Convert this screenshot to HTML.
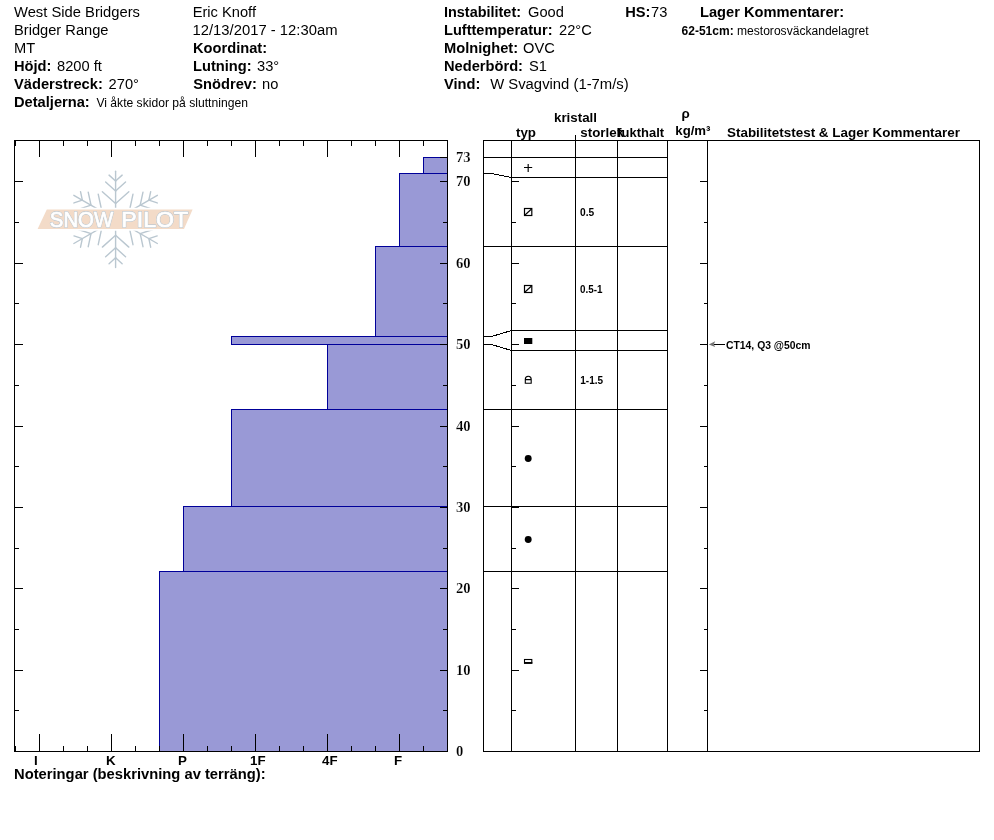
<!DOCTYPE html>
<html lang="sv"><head><meta charset="utf-8"><title>SnowPilot profil</title>
<style>
html,body{margin:0;padding:0;background:#fff;}
body{width:994px;height:840px;overflow:hidden;}
svg{display:block;position:absolute;left:0;top:0;will-change:transform;}
text{font-family:"Liberation Sans",Arial,Helvetica,sans-serif;fill:#000;white-space:pre;}
.b{font-weight:bold;}
.h{font-size:14.667px;}
.s{font-size:12px;}
.c{font-size:13.333px;font-weight:bold;}
.t{font-size:10.667px;font-weight:bold;}
.n{font-family:"Liberation Serif","Times New Roman",serif;font-weight:bold;font-size:14.667px;stroke:#fff;stroke-width:0.2px;}
.ln{shape-rendering:crispEdges;fill:#000;}
</style></head><body>
<svg width="994" height="840" viewBox="0 0 994 840">
<rect x="0" y="0" width="994" height="840" fill="#fff"/>
<text x="14" y="17" class="h" textLength="126" lengthAdjust="spacingAndGlyphs">West Side Bridgers</text>
<text x="14" y="35" class="h">Bridger Range</text>
<text x="14" y="53" class="h">MT</text>
<text x="14" y="71" class="h b">Höjd:</text>
<text x="57" y="71" class="h">8200 ft</text>
<text x="14" y="89" class="h b">Väderstreck:</text>
<text x="108.6" y="89" class="h">270°</text>
<text x="14" y="107" class="h b">Detaljerna:</text>
<text x="96.4" y="107" class="s" textLength="151.5" lengthAdjust="spacingAndGlyphs">Vi åkte skidor på sluttningen</text>
<text x="192.7" y="17" class="h">Eric Knoff</text>
<text x="192.5" y="35" class="h" textLength="145" lengthAdjust="spacingAndGlyphs">12/13/2017 - 12:30am</text>
<text x="193" y="53" class="h b">Koordinat:</text>
<text x="193" y="71" class="h b">Lutning:</text>
<text x="257" y="71" class="h">33°</text>
<text x="193.3" y="89" class="h b">Snödrev:</text>
<text x="262" y="89" class="h">no</text>
<text x="444" y="17" class="h b" textLength="77" lengthAdjust="spacingAndGlyphs">Instabilitet:</text>
<text x="528" y="17" class="h">Good</text>
<text x="444" y="35" class="h b" textLength="108.5" lengthAdjust="spacingAndGlyphs">Lufttemperatur:</text>
<text x="559" y="35" class="h">22°C</text>
<text x="444" y="53" class="h b">Molnighet:</text>
<text x="523" y="53" class="h">OVC</text>
<text x="444" y="71" class="h b">Nederbörd:</text>
<text x="529" y="71" class="h">S1</text>
<text x="444" y="89" class="h b">Vind:</text>
<text x="490.2" y="89" class="h" textLength="138.5" lengthAdjust="spacingAndGlyphs">W Svagvind (1-7m/s)</text>
<text x="625.2" y="17" class="h b">HS:</text>
<text x="651" y="17" class="h">73</text>
<text x="700" y="17" class="h b">Lager Kommentarer:</text>
<text x="681.6" y="35" class="s b">62-51cm:</text>
<text x="737" y="35" class="s" textLength="131.5" lengthAdjust="spacingAndGlyphs">mestorosväckandelagret</text>
<g stroke="#bac7d0" stroke-width="1.4" stroke-linecap="round" fill="none">
<line x1="115.60" y1="216.40" x2="115.60" y2="171.20"/>
<line x1="115.60" y1="181.00" x2="122.14" y2="175.11"/>
<line x1="115.60" y1="181.00" x2="109.06" y2="175.11"/>
<line x1="115.60" y1="191.00" x2="125.56" y2="182.03"/>
<line x1="115.60" y1="191.00" x2="105.64" y2="182.03"/>
<line x1="115.60" y1="203.60" x2="128.83" y2="191.69"/>
<line x1="115.60" y1="203.60" x2="102.37" y2="191.69"/>
<line x1="118.20" y1="217.90" x2="157.34" y2="195.30"/>
<line x1="148.86" y1="200.20" x2="157.22" y2="202.92"/>
<line x1="148.86" y1="200.20" x2="150.68" y2="191.59"/>
<line x1="140.20" y1="205.20" x2="152.94" y2="209.34"/>
<line x1="140.20" y1="205.20" x2="142.98" y2="192.09"/>
<line x1="129.28" y1="211.50" x2="146.21" y2="217.00"/>
<line x1="129.28" y1="211.50" x2="132.98" y2="194.09"/>
<line x1="113.00" y1="217.90" x2="73.86" y2="195.30"/>
<line x1="82.34" y1="200.20" x2="80.52" y2="191.59"/>
<line x1="82.34" y1="200.20" x2="73.98" y2="202.92"/>
<line x1="91.00" y1="205.20" x2="88.22" y2="192.09"/>
<line x1="91.00" y1="205.20" x2="78.26" y2="209.34"/>
<line x1="101.92" y1="211.50" x2="98.22" y2="194.09"/>
<line x1="101.92" y1="211.50" x2="84.99" y2="217.00"/>
<line x1="113.00" y1="220.90" x2="73.86" y2="243.50"/>
<line x1="82.34" y1="238.60" x2="73.98" y2="235.88"/>
<line x1="82.34" y1="238.60" x2="80.52" y2="247.21"/>
<line x1="91.00" y1="233.60" x2="78.26" y2="229.46"/>
<line x1="91.00" y1="233.60" x2="88.22" y2="246.71"/>
<line x1="101.92" y1="227.30" x2="84.99" y2="221.80"/>
<line x1="101.92" y1="227.30" x2="98.22" y2="244.71"/>
<line x1="115.60" y1="222.40" x2="115.60" y2="267.60"/>
<line x1="115.60" y1="257.80" x2="109.06" y2="263.69"/>
<line x1="115.60" y1="257.80" x2="122.14" y2="263.69"/>
<line x1="115.60" y1="247.80" x2="105.64" y2="256.77"/>
<line x1="115.60" y1="247.80" x2="125.56" y2="256.77"/>
<line x1="115.60" y1="235.20" x2="102.37" y2="247.11"/>
<line x1="115.60" y1="235.20" x2="128.83" y2="247.11"/>
<line x1="118.20" y1="220.90" x2="157.34" y2="243.50"/>
<line x1="148.86" y1="238.60" x2="150.68" y2="247.21"/>
<line x1="148.86" y1="238.60" x2="157.22" y2="235.88"/>
<line x1="140.20" y1="233.60" x2="142.98" y2="246.71"/>
<line x1="140.20" y1="233.60" x2="152.94" y2="229.46"/>
<line x1="129.28" y1="227.30" x2="132.98" y2="244.71"/>
<line x1="129.28" y1="227.30" x2="146.21" y2="221.80"/>
</g>
<polygon points="46.8,209.6 192.6,209.6 184,228.9 37.6,228.9" fill="#f3dbc8" stroke="#fff" stroke-width="3.6" paint-order="stroke"/>
<g style="font-size:21.5px">
<text x="49.8" y="227" style="fill:#c1cad1;stroke:#c1cad1;stroke-width:1.9px;stroke-linejoin:round" textLength="63.4" lengthAdjust="spacingAndGlyphs">SNOW</text>
<text x="49.8" y="227" style="fill:#fff;stroke:#fff;stroke-width:0.7px;stroke-linejoin:round" textLength="63.4" lengthAdjust="spacingAndGlyphs">SNOW</text>
<text x="121.3" y="227" style="fill:#c1cad1;stroke:#c1cad1;stroke-width:1.9px;stroke-linejoin:round" textLength="66.8" lengthAdjust="spacingAndGlyphs">PILOT</text>
<text x="121.3" y="227" style="fill:#fff;stroke:#fff;stroke-width:0.7px;stroke-linejoin:round" textLength="66.8" lengthAdjust="spacingAndGlyphs">PILOT</text>
</g>
<rect x="423.5" y="157.5" width="23.5" height="16" fill="#9999d6" stroke="#000099" stroke-width="1" shape-rendering="crispEdges"/>
<rect x="399.5" y="173.5" width="47.5" height="73" fill="#9999d6" stroke="#000099" stroke-width="1" shape-rendering="crispEdges"/>
<rect x="375.5" y="246.5" width="71.5" height="90" fill="#9999d6" stroke="#000099" stroke-width="1" shape-rendering="crispEdges"/>
<rect x="231.5" y="336.5" width="215.5" height="8" fill="#9999d6" stroke="#000099" stroke-width="1" shape-rendering="crispEdges"/>
<rect x="327.5" y="344.5" width="119.5" height="65" fill="#9999d6" stroke="#000099" stroke-width="1" shape-rendering="crispEdges"/>
<rect x="231.5" y="409.5" width="215.5" height="97" fill="#9999d6" stroke="#000099" stroke-width="1" shape-rendering="crispEdges"/>
<rect x="183.5" y="506.5" width="263.5" height="65" fill="#9999d6" stroke="#000099" stroke-width="1" shape-rendering="crispEdges"/>
<rect x="159.5" y="571.5" width="287.5" height="180" fill="#9999d6" stroke="#000099" stroke-width="1" shape-rendering="crispEdges"/>
<rect class="ln" x="14" y="140" width="434" height="1" fill="#000"/>
<rect class="ln" x="14" y="751" width="434" height="1" fill="#000"/>
<rect class="ln" x="14" y="140" width="1" height="612" fill="#000"/>
<rect class="ln" x="447" y="140" width="1" height="612" fill="#000"/>
<rect class="ln" x="15" y="141" width="1" height="5" fill="#000"/>
<rect class="ln" x="15" y="746" width="1" height="5" fill="#000"/>
<rect class="ln" x="39" y="141" width="1" height="16" fill="#000"/>
<rect class="ln" x="39" y="734" width="1" height="17" fill="#000"/>
<rect class="ln" x="63" y="141" width="1" height="5" fill="#000"/>
<rect class="ln" x="63" y="746" width="1" height="5" fill="#000"/>
<rect class="ln" x="87" y="141" width="1" height="5" fill="#000"/>
<rect class="ln" x="87" y="746" width="1" height="5" fill="#000"/>
<rect class="ln" x="111" y="141" width="1" height="16" fill="#000"/>
<rect class="ln" x="111" y="734" width="1" height="17" fill="#000"/>
<rect class="ln" x="135" y="141" width="1" height="5" fill="#000"/>
<rect class="ln" x="135" y="746" width="1" height="5" fill="#000"/>
<rect class="ln" x="159" y="141" width="1" height="5" fill="#000"/>
<rect class="ln" x="159" y="746" width="1" height="5" fill="#000"/>
<rect class="ln" x="183" y="141" width="1" height="16" fill="#000"/>
<rect class="ln" x="183" y="734" width="1" height="17" fill="#000"/>
<rect class="ln" x="207" y="141" width="1" height="5" fill="#000"/>
<rect class="ln" x="207" y="746" width="1" height="5" fill="#000"/>
<rect class="ln" x="231" y="141" width="1" height="5" fill="#000"/>
<rect class="ln" x="231" y="746" width="1" height="5" fill="#000"/>
<rect class="ln" x="255" y="141" width="1" height="16" fill="#000"/>
<rect class="ln" x="255" y="734" width="1" height="17" fill="#000"/>
<rect class="ln" x="279" y="141" width="1" height="5" fill="#000"/>
<rect class="ln" x="279" y="746" width="1" height="5" fill="#000"/>
<rect class="ln" x="303" y="141" width="1" height="5" fill="#000"/>
<rect class="ln" x="303" y="746" width="1" height="5" fill="#000"/>
<rect class="ln" x="327" y="141" width="1" height="16" fill="#000"/>
<rect class="ln" x="327" y="734" width="1" height="17" fill="#000"/>
<rect class="ln" x="351" y="141" width="1" height="5" fill="#000"/>
<rect class="ln" x="351" y="746" width="1" height="5" fill="#000"/>
<rect class="ln" x="375" y="141" width="1" height="5" fill="#000"/>
<rect class="ln" x="375" y="746" width="1" height="5" fill="#000"/>
<rect class="ln" x="399" y="141" width="1" height="16" fill="#000"/>
<rect class="ln" x="399" y="734" width="1" height="17" fill="#000"/>
<rect class="ln" x="423" y="141" width="1" height="5" fill="#000"/>
<rect class="ln" x="423" y="746" width="1" height="5" fill="#000"/>
<rect class="ln" x="15" y="181" width="8" height="1" fill="#000"/>
<rect class="ln" x="440" y="181" width="7" height="1" fill="#000"/>
<rect class="ln" x="15" y="222" width="4" height="1" fill="#000"/>
<rect class="ln" x="443" y="222" width="4" height="1" fill="#000"/>
<rect class="ln" x="15" y="263" width="8" height="1" fill="#000"/>
<rect class="ln" x="440" y="263" width="7" height="1" fill="#000"/>
<rect class="ln" x="15" y="303" width="4" height="1" fill="#000"/>
<rect class="ln" x="443" y="303" width="4" height="1" fill="#000"/>
<rect class="ln" x="15" y="344" width="8" height="1" fill="#000"/>
<rect class="ln" x="440" y="344" width="7" height="1" fill="#000"/>
<rect class="ln" x="15" y="385" width="4" height="1" fill="#000"/>
<rect class="ln" x="443" y="385" width="4" height="1" fill="#000"/>
<rect class="ln" x="15" y="426" width="8" height="1" fill="#000"/>
<rect class="ln" x="440" y="426" width="7" height="1" fill="#000"/>
<rect class="ln" x="15" y="466" width="4" height="1" fill="#000"/>
<rect class="ln" x="443" y="466" width="4" height="1" fill="#000"/>
<rect class="ln" x="15" y="507" width="8" height="1" fill="#000"/>
<rect class="ln" x="440" y="507" width="7" height="1" fill="#000"/>
<rect class="ln" x="15" y="548" width="4" height="1" fill="#000"/>
<rect class="ln" x="443" y="548" width="4" height="1" fill="#000"/>
<rect class="ln" x="15" y="588" width="8" height="1" fill="#000"/>
<rect class="ln" x="440" y="588" width="7" height="1" fill="#000"/>
<rect class="ln" x="15" y="629" width="4" height="1" fill="#000"/>
<rect class="ln" x="443" y="629" width="4" height="1" fill="#000"/>
<rect class="ln" x="15" y="670" width="8" height="1" fill="#000"/>
<rect class="ln" x="440" y="670" width="7" height="1" fill="#000"/>
<rect class="ln" x="15" y="710" width="4" height="1" fill="#000"/>
<rect class="ln" x="443" y="710" width="4" height="1" fill="#000"/>
<rect class="ln" x="440" y="157" width="7" height="1" fill="#000"/>
<text x="34" y="765" class="c">I</text>
<text x="106" y="765" class="c">K</text>
<text x="178" y="765" class="c">P</text>
<text x="250" y="765" class="c">1F</text>
<text x="322" y="765" class="c">4F</text>
<text x="394" y="765" class="c">F</text>
<text x="456" y="162" class="n">73</text>
<text x="456" y="186" class="n">70</text>
<text x="456" y="268" class="n">60</text>
<text x="456" y="349" class="n">50</text>
<text x="456" y="431" class="n">40</text>
<text x="456" y="512" class="n">30</text>
<text x="456" y="593" class="n">20</text>
<text x="456" y="675" class="n">10</text>
<text x="456" y="756" class="n">0</text>
<text x="14" y="779" class="h b" textLength="251.6" lengthAdjust="spacingAndGlyphs">Noteringar (beskrivning av terräng):</text>
<rect class="ln" x="483" y="140" width="497" height="1" fill="#000"/>
<rect class="ln" x="483" y="751" width="497" height="1" fill="#000"/>
<rect class="ln" x="483" y="140" width="1" height="612" fill="#000"/>
<rect class="ln" x="511" y="140" width="1" height="612" fill="#000"/>
<rect class="ln" x="575" y="140" width="1" height="612" fill="#000"/>
<rect class="ln" x="617" y="140" width="1" height="612" fill="#000"/>
<rect class="ln" x="667" y="140" width="1" height="612" fill="#000"/>
<rect class="ln" x="707" y="140" width="1" height="612" fill="#000"/>
<rect class="ln" x="979" y="140" width="1" height="612" fill="#000"/>
<rect class="ln" x="575" y="135" width="1" height="5" fill="#000"/>
<rect class="ln" x="483" y="157" width="184" height="1" fill="#000"/>
<rect class="ln" x="511" y="177" width="156" height="1" fill="#000"/>
<rect class="ln" x="511" y="246" width="156" height="1" fill="#000"/>
<rect class="ln" x="511" y="330" width="156" height="1" fill="#000"/>
<rect class="ln" x="511" y="350" width="156" height="1" fill="#000"/>
<rect class="ln" x="511" y="409" width="156" height="1" fill="#000"/>
<rect class="ln" x="511" y="506" width="156" height="1" fill="#000"/>
<rect class="ln" x="511" y="571" width="156" height="1" fill="#000"/>
<polyline points="483.5,173.5 491.5,173.5 511.5,177.5" fill="none" stroke="#000" stroke-width="1" shape-rendering="crispEdges"/>
<rect class="ln" x="483" y="246" width="28" height="1" fill="#000"/>
<polyline points="483.5,336.5 491.5,336.5 511.5,330.5" fill="none" stroke="#000" stroke-width="1" shape-rendering="crispEdges"/>
<polyline points="483.5,344.5 491.5,344.5 511.5,350.5" fill="none" stroke="#000" stroke-width="1" shape-rendering="crispEdges"/>
<rect class="ln" x="483" y="409" width="28" height="1" fill="#000"/>
<rect class="ln" x="483" y="506" width="28" height="1" fill="#000"/>
<rect class="ln" x="483" y="571" width="28" height="1" fill="#000"/>
<rect class="ln" x="512" y="181" width="7" height="1" fill="#000"/>
<rect class="ln" x="700" y="181" width="7" height="1" fill="#000"/>
<rect class="ln" x="512" y="222" width="4" height="1" fill="#000"/>
<rect class="ln" x="704" y="222" width="3" height="1" fill="#000"/>
<rect class="ln" x="512" y="263" width="7" height="1" fill="#000"/>
<rect class="ln" x="700" y="263" width="7" height="1" fill="#000"/>
<rect class="ln" x="512" y="303" width="4" height="1" fill="#000"/>
<rect class="ln" x="704" y="303" width="3" height="1" fill="#000"/>
<rect class="ln" x="512" y="344" width="7" height="1" fill="#000"/>
<rect class="ln" x="700" y="344" width="7" height="1" fill="#000"/>
<rect class="ln" x="512" y="385" width="4" height="1" fill="#000"/>
<rect class="ln" x="704" y="385" width="3" height="1" fill="#000"/>
<rect class="ln" x="512" y="426" width="7" height="1" fill="#000"/>
<rect class="ln" x="700" y="426" width="7" height="1" fill="#000"/>
<rect class="ln" x="512" y="466" width="4" height="1" fill="#000"/>
<rect class="ln" x="704" y="466" width="3" height="1" fill="#000"/>
<rect class="ln" x="512" y="507" width="7" height="1" fill="#000"/>
<rect class="ln" x="700" y="507" width="7" height="1" fill="#000"/>
<rect class="ln" x="512" y="548" width="4" height="1" fill="#000"/>
<rect class="ln" x="704" y="548" width="3" height="1" fill="#000"/>
<rect class="ln" x="512" y="588" width="7" height="1" fill="#000"/>
<rect class="ln" x="700" y="588" width="7" height="1" fill="#000"/>
<rect class="ln" x="512" y="629" width="4" height="1" fill="#000"/>
<rect class="ln" x="704" y="629" width="3" height="1" fill="#000"/>
<rect class="ln" x="512" y="670" width="7" height="1" fill="#000"/>
<rect class="ln" x="700" y="670" width="7" height="1" fill="#000"/>
<rect class="ln" x="512" y="710" width="4" height="1" fill="#000"/>
<rect class="ln" x="704" y="710" width="3" height="1" fill="#000"/>
<text x="516" y="137" class="c">typ</text>
<text x="554" y="122" class="c">kristall</text>
<text x="580.3" y="137" class="c">storlek</text>
<text x="617.3" y="137" class="c" textLength="46.8" lengthAdjust="spacingAndGlyphs">fukthalt</text>
<text x="681.4" y="118" class="c">ρ</text>
<text x="675.3" y="135" class="c" textLength="35.2" lengthAdjust="spacingAndGlyphs">kg/m³</text>
<text x="727" y="137" class="c" textLength="233" lengthAdjust="spacingAndGlyphs">Stabilitetstest &amp; Lager Kommentarer</text>
<rect class="" x="524" y="167" width="8.2" height="1" fill="#000"/>
<rect class="" x="527.6" y="164" width="1.15" height="8" fill="#000"/>
<rect x="524.5" y="208.5" width="7.3" height="7" fill="none" stroke="#000" stroke-width="1.2"/>
<line x1="525" y1="215" x2="531.5" y2="209" stroke="#000" stroke-width="1.1"/>
<rect x="524.5" y="285.5" width="7.3" height="7" fill="none" stroke="#000" stroke-width="1.2"/>
<line x1="525" y1="292" x2="531.5" y2="286" stroke="#000" stroke-width="1.1"/>
<rect class="" x="524" y="338" width="8.3" height="6" fill="#000"/>
<path d="M525.3 383.3 V379.3 A2.9 3 0 0 1 531.2 379.3 V383.3 Z M525.3 379.6 H531.2" fill="none" stroke="#000" stroke-width="1.1"/>
<circle cx="528.2" cy="458.5" r="3.45" fill="#000"/>
<circle cx="528.2" cy="539.5" r="3.45" fill="#000"/>
<rect x="524.5" y="659.5" width="7.3" height="3.6" fill="none" stroke="#000" stroke-width="1.1"/>
<rect class="" x="524" y="662" width="8.3" height="1.8" fill="#000"/>
<text x="580" y="216" class="t" textLength="14.2" lengthAdjust="spacingAndGlyphs">0.5</text>
<text x="580.1" y="293" class="t" textLength="22.5" lengthAdjust="spacingAndGlyphs">0.5-1</text>
<text x="580.3" y="384" class="t" textLength="22.8" lengthAdjust="spacingAndGlyphs">1-1.5</text>
<rect class="ln" x="714" y="344" width="11" height="1" fill="#000"/>
<polygon points="708.8,344.4 715.2,341.3 713.8,344.4 715.2,347" fill="#757575"/>
<text x="726" y="349" class="t" textLength="84.5" lengthAdjust="spacingAndGlyphs">CT14, Q3 @50cm</text>
</svg></body></html>
